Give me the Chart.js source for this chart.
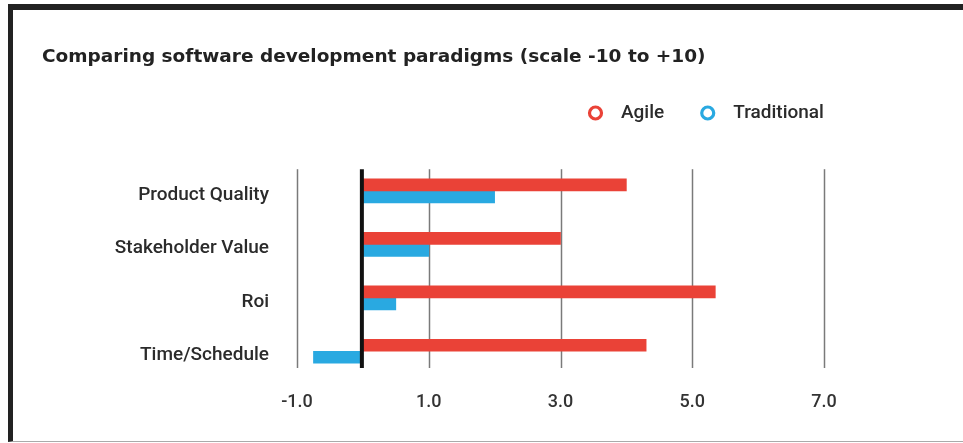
<!DOCTYPE html>
<html>
<head>
<meta charset="utf-8">
<script src="https://cdn.jsdelivr.net/npm/chart.js@4"></script>
<style>
  html, body { margin: 0; padding: 0; background: #fff; }
  #wrap { position: relative; width: 963px; height: 443px; overflow: hidden; }
  #frame {
    position: absolute; left: 8px; top: 4px; width: 1000px; height: 431px;
    border-top: 6px solid #222; border-left: 5px solid #222; border-bottom: 1px solid #aaa;
  }
  #chart { position: absolute; left: 0; top: 0; }
</style>
</head>
<body>
<div id="wrap">
  <div id="frame"></div>
  <canvas id="chart" width="963" height="443"></canvas>
</div>
<script>
// chart data
const categories = ['Product Quality', 'Stakeholder Value', 'Roi', 'Time/Schedule'];
const agile = [4.0, 3.0, 5.35, 4.3];
const traditional = [2.0, 1.0, 0.5, -0.75];
const xTicks = [-1, 1, 3, 5, 7];

const RED = '#ea4237';
const BLUE = '#29a9e1';

// vertical grid lines + thick zero line, a bit shorter than the plot area
const gridLines = {
  id: 'gridLines',
  beforeDatasetsDraw(chart) {
    const { ctx, chartArea, scales: { x } } = chart;
    ctx.save();
    ctx.strokeStyle = '#7a7a7a';
    ctx.lineWidth = 1.5;
    xTicks.forEach(v => {
      const px = Math.round(x.getPixelForValue(v)) + 0.5;
      ctx.beginPath();
      ctx.moveTo(px, chartArea.top + 5);
      ctx.lineTo(px, chartArea.bottom - 10);
      ctx.stroke();
    });
    ctx.restore();
  },
  afterDatasetsDraw(chart) {
    const { ctx, chartArea, scales: { x } } = chart;
    const px = x.getPixelForValue(0) - 1;
    ctx.save();
    ctx.strokeStyle = '#111';
    ctx.lineWidth = 4;
    ctx.beginPath();
    ctx.moveTo(px, chartArea.top + 5);
    ctx.lineTo(px, chartArea.bottom - 10);
    ctx.stroke();
    ctx.restore();
  }
};

// ring-style legend in the upper right
const ringLegend = {
  id: 'ringLegend',
  afterDraw(chart) {
    const ctx = chart.ctx;
    const y = 113;
    let x = 588;
    ctx.save();
    ctx.font = '500 19px Roboto';
    ctx.textBaseline = 'middle';
    chart.data.datasets.forEach(ds => {
      ctx.beginPath();
      ctx.arc(x + 7.5, y, 6, 0, Math.PI * 2);
      ctx.lineWidth = 3.2;
      ctx.strokeStyle = ds.backgroundColor;
      ctx.stroke();
      ctx.fillStyle = '#2b2b2b';
      ctx.fillText(ds.label, x + 33, y);
      x += 33 + ctx.measureText(ds.label).width + 36;
    });
    ctx.restore();
  }
};

new Chart(document.getElementById('chart'), {
  type: 'bar',
  data: {
    labels: categories,
    datasets: [
      { label: 'Agile', data: agile, backgroundColor: RED, barThickness: 12 },
      { label: 'Traditional', data: traditional, backgroundColor: BLUE, barThickness: 12 }
    ]
  },
  options: {
    indexAxis: 'y',
    responsive: false,
    animation: false,
    layout: { padding: { left: 42, right: 139, bottom: 0 } },
    plugins: {
      legend: { display: false },
      tooltip: { enabled: false },
      title: {
        display: true,
        text: 'Comparing software development paradigms (scale -10 to +10)',
        align: 'start',
        color: '#222',
        font: { family: 'DejaVu Sans', size: 18.5, weight: 'bold' },
        padding: { top: 46, bottom: 96 }
      }
    },
    scales: {
      x: {
        min: -1,
        max: 7,
        afterBuildTicks: s => { s.ticks = xTicks.map(v => ({ value: v })); },
        afterFit: s => { s.height = 65; },
        grid: { display: false, drawTicks: false },
        border: { display: false },
        ticks: {
          padding: 14,
          color: '#333',
          font: { family: 'Roboto', size: 18, weight: '500' },
          callback: v => v.toFixed(1)
        }
      },
      y: {
        grid: { display: false, drawTicks: false },
        border: { display: false },
        afterFit: s => { s.width = 255; },
        ticks: {
          padding: 28,
          labelOffset: 4,
          color: '#2b2b2b',
          font: { family: 'Roboto', size: 19, weight: '500' }
        }
      }
    }
  },
  plugins: [gridLines, ringLegend]
});
</script>
</body>
</html>
